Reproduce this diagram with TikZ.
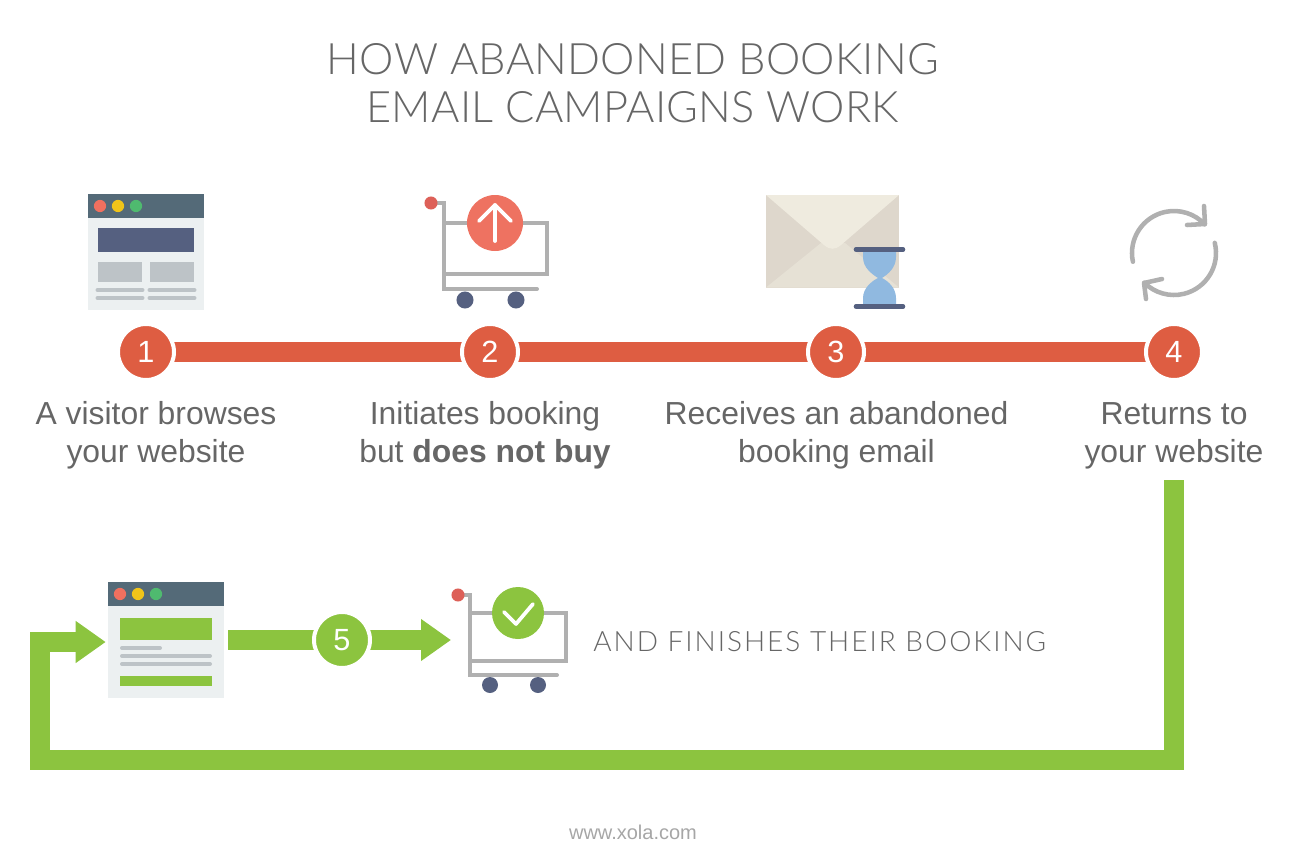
\documentclass[tikz,border=0pt]{standalone}
\usepackage{fontspec}
\setmainfont{Liberation Sans}
\newfontfamily\headfont[LetterSpace=0.5]{Lato Light}
\newfontfamily\notefont[LetterSpace=7.1]{Lato Light}
\usetikzlibrary{arrows.meta,backgrounds}
\definecolor{barred}{HTML}{DE5D42}
\definecolor{flowgreen}{HTML}{8CC43F}
\definecolor{inktext}{HTML}{666666}
\definecolor{slate}{HTML}{546A78}
\definecolor{panelbg}{HTML}{ECF0F1}
\definecolor{navy}{HTML}{556080}
\definecolor{softgray}{HTML}{BDC3C7}
\definecolor{cartgray}{HTML}{B0B0B0}
\definecolor{dotred}{HTML}{F0705F}
\definecolor{dotyellow}{HTML}{F0C419}
\definecolor{dotgreen}{HTML}{4FBA6F}
\definecolor{knobred}{HTML}{DD6058}
\definecolor{coral}{HTML}{EE7261}
\definecolor{envside}{HTML}{DED7CC}
\definecolor{envflap}{HTML}{EFEBDF}
\definecolor{envfront}{HTML}{E6E1D5}
\definecolor{sand}{HTML}{90B9E0}
\tikzset{
  x=0.75pt,y=-0.75pt,
  numdisc/.style={circle,minimum size=42pt,inner sep=0pt,line width=3pt,draw=white,
    text=white,font=\fontsize{23}{23}\selectfont},
  stepdisc/.style={numdisc,fill=barred},
  godisc/.style={numdisc,fill=flowgreen},
  redbar/.style={draw=barred,line width=15pt},
  greenflow/.style={draw=flowgreen,line width=15pt,miter limit=10,
    -{Triangle[length=22.5pt,width=30pt]}},
  caption/.style={align=center,inner sep=0pt,text=inktext,font=\fontsize{23.9}{28.5}\selectfont},
  headline/.style={align=center,inner sep=0pt,text=inktext,font=\headfont\fontsize{32.5}{36}\selectfont},
  panel/.style={rectangle,fill=panelbg,minimum width=87pt,minimum height=87pt,inner sep=0pt},
  rule/.style={draw=softgray,line width=3pt,line cap=round},
  cartframe/.style={draw=cartgray,line width=3pt,line cap=round,line join=miter},
  whitemark/.style={draw=white,line width=2.8pt,line cap=round,line join=round},
  spin/.style={draw=cartgray,line width=3.4pt,line cap=round,line join=round}
}
\begin{document}
\begin{tikzpicture}
\useasboundingbox (0,0) rectangle (1300,860);

% Title
\node[headline] (title) at (633,83.5) {HOW ABANDONED BOOKING\\EMAIL CAMPAIGNS WORK};

% Browser window, step 1
\node[panel] (win1) at (146,252) {};
\fill[slate] (88,194) rectangle (204,218);
\fill[dotred] (100,206) circle[radius=4.6pt];
\fill[dotyellow] (118,206) circle[radius=4.6pt];
\fill[dotgreen] (136,206) circle[radius=4.6pt];
\fill[navy] (98,228) rectangle (194,252);
\fill[softgray] (98,262) rectangle (142,282);
\fill[softgray] (150,262) rectangle (194,282);
\draw[rule] (97.5,290) -- (142.5,290);
\draw[rule] (149.5,290) -- (194.5,290);
\draw[rule] (97.5,298) -- (142.5,298);
\draw[rule] (149.5,298) -- (194.5,298);

% Cart, step 2
\draw[cartframe] (431,203) -- (444,203) -- (444,289) -- (537,289);
\draw[cartframe,line cap=butt] (444,223) -- (547,223) -- (547,274) -- (444,274);
\fill[knobred] (431,203) circle[radius=4.9pt];
\fill[navy] (465,300) circle[radius=6.4pt];
\fill[navy] (516,300) circle[radius=6.4pt];
\fill[coral] (495,223) circle[radius=21pt];
\draw[whitemark] (495,241) -- (495,205);
\draw[whitemark] (479,221) -- (495,205) -- (511,221);

% Envelope with hourglass, step 3
\fill[envside] (766,195) rectangle (899,287.5);
\fill[envfront] (766,287.5) -- (821,243) -- (845,243) -- (899,287.5) -- cycle;
\fill[envflap] (766,195) -- (899,195) -- (841,245)
  .. controls (835,250) and (830,250) .. (824,245) -- cycle;
\fill[sand] (863,250) -- (896,250) -- (896,257)
  .. controls (896,268) and (888,274) .. (882,278)
  .. controls (888,281) and (896,288) .. (896,298) -- (896,306) -- (863,306) -- (863,298)
  .. controls (863,288) and (872,281) .. (878,278)
  .. controls (872,274) and (863,268) .. (863,257) -- cycle;
\draw[navy,line width=3.4pt,line cap=round] (856,249.5) -- (903,249.5);
\draw[navy,line width=3.4pt,line cap=round] (856,306.5) -- (903,306.5);

% Refresh arrows, step 4
\draw[spin] (1174,253) ++(192:31.5pt) arc[start angle=192,end angle=43,radius=31.5pt];
\draw[spin] (1204,206) -- (1205,224) -- (1187,225);
\draw[spin] (1174,253) ++(14:31.5pt) arc[start angle=14,end angle=-135,radius=31.5pt];
\draw[spin] (1162,279) -- (1144,283) -- (1146,299);

% Numbered discs on the timeline
\node[stepdisc] (s1) at (146,352) {1};
\node[stepdisc] (s2) at (490,352) {2};
\node[stepdisc] (s3) at (836,352) {3};
\node[stepdisc] (s4) at (1174,352) {4};
\begin{scope}[on background layer]
  \draw[redbar] (s1.center) -- (s2.center);
  \draw[redbar] (s2.center) -- (s3.center);
  \draw[redbar] (s3.center) -- (s4.center);
\end{scope}

% Step captions
\node[caption] (t1) at (156,435) {A visitor browses\\your website};
\node[caption] (t2) at (485,435) {Initiates booking\\but \textbf{does not buy}};
\node[caption] (t3) at (836.5,435) {Receives an abandoned\\booking email};
\node[caption] (t4) at (1174,436) {Returns to\\your website};

% Browser window, checkout
\node[panel] (win2) at (166,640) {};
\fill[slate] (108,582) rectangle (224,606);
\fill[dotred] (120,594) circle[radius=4.6pt];
\fill[dotyellow] (138,594) circle[radius=4.6pt];
\fill[dotgreen] (156,594) circle[radius=4.6pt];
\fill[flowgreen] (120,618) rectangle (212,640);
\draw[rule] (122,648) -- (160,648);
\draw[rule] (122,656) -- (210,656);
\draw[rule] (122,664) -- (210,664);
\fill[flowgreen] (120,676) rectangle (212,686);

% Cart, finished booking
\draw[cartframe] (458,595) -- (470,595) -- (470,675) -- (557,675);
\draw[cartframe,line cap=butt] (470,613) -- (566,613) -- (566,661) -- (470,661);
\fill[knobred] (458,595) circle[radius=4.9pt];
\fill[navy] (490,685) circle[radius=6pt];
\fill[navy] (538,685) circle[radius=6pt];
\fill[flowgreen] (518,613) circle[radius=19.5pt];
\draw[whitemark] (504,612) -- (516,624) -- (533,604);
\coordinate (cartin) at (451,640);

% Return path and step 5 flow
\coordinate (loopstart) at (1174,480);
\node[godisc] (s5) at (342,640) {5};
\begin{scope}[on background layer]
  \draw[greenflow] (loopstart) -- (1174,760) -- (40,760) -- (40,642) -- ([shift={(-2,2)}]win2.west);
  \draw[flowgreen,line width=15pt] ([xshift=3pt]win2.east) -- (s5.center);
  \draw[greenflow] (s5.center) -- (cartin);
\end{scope}

\node[inner sep=0pt,text=inktext,font=\notefont\fontsize{21}{24}\selectfont,anchor=west] (done) at (593,641.5) {AND FINISHES THEIR BOOKING};
\node[inner sep=0pt,text=black!35,font=\fontsize{15}{17}\selectfont] (site) at (633,832) {www.xola.com};
\end{tikzpicture}
\end{document}
